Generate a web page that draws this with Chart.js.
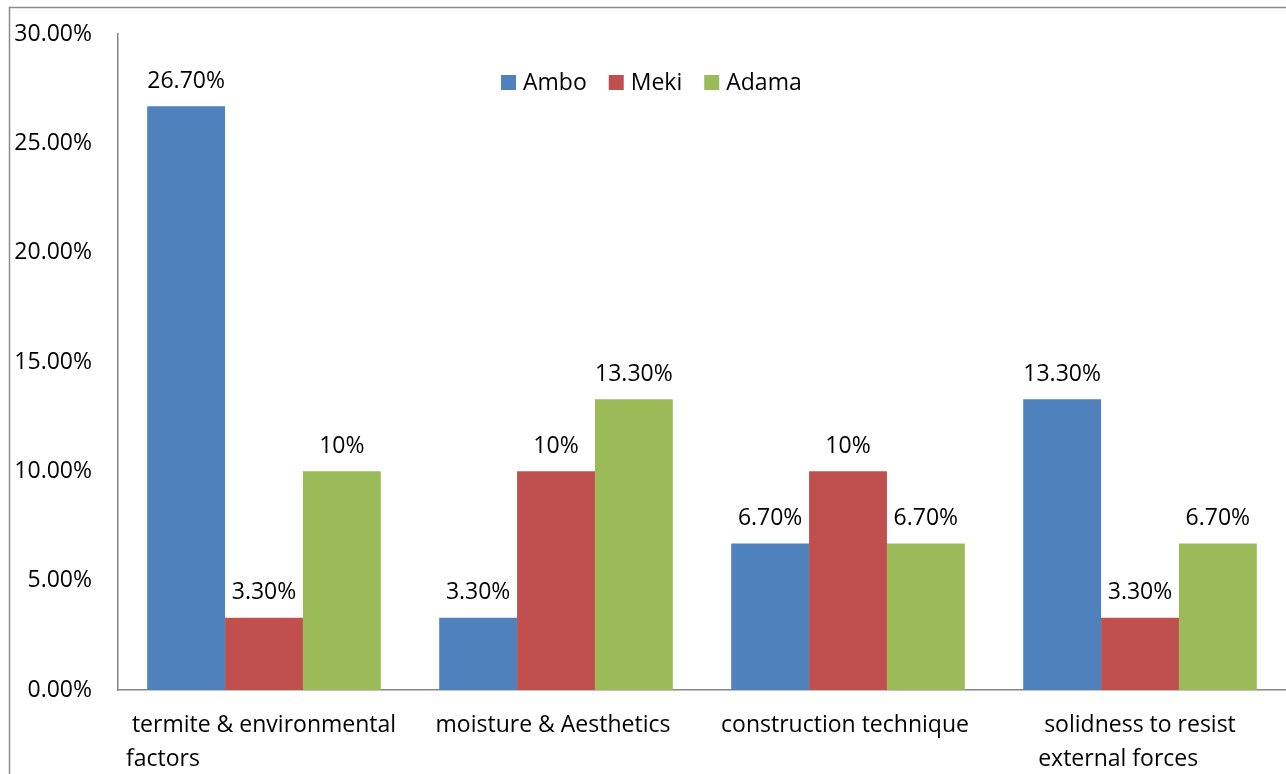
<!DOCTYPE html>
<html>
<head>
<meta charset="utf-8">
<script src="https://cdn.jsdelivr.net/npm/chart.js@4.4.1/dist/chart.umd.min.js"></script>
<style>
  html, body { margin: 0; padding: 0; background: #fff; }
  #wrap { width: 1286px; height: 774px; position: relative; }
</style>
</head>
<body>
<div id="wrap"><canvas id="chart" width="1286" height="774"></canvas></div>
<script>
const categories = [
  [' termite & environmental', 'factors'],
  ['moisture & Aesthetics'],
  ['construction technique'],
  [' solidness to resist', 'external forces']
];
const seriesNames = ['Ambo', 'Meki', 'Adama'];
const ambo  = [26.7, 3.3, 6.7, 13.3];
const meki  = [3.3, 10, 10, 3.3];
const adama = [10, 13.3, 6.7, 6.7];
const yTicks = [0, 5, 10, 15, 20, 25, 30];
const colors = ['#4f81bd', '#c0504d', '#9bbb59'];

const FONT = '23px "Open Sans", sans-serif';
const AXIS = '#868686';

function fmt(v) {
  return Number.isInteger(v) ? v + '%' : v.toFixed(2) + '%';
}

// frame, data labels, legend and two-line category labels
const extras = {
  id: 'extras',
  beforeDraw(chart) {
    const ctx = chart.ctx;
    ctx.save();
    ctx.strokeStyle = '#8c8c8c';
    ctx.lineWidth = 1.5;
    ctx.beginPath();
    ctx.moveTo(9.5, 774);
    ctx.lineTo(9.5, 7.5);
    ctx.lineTo(1286, 7.5);
    ctx.stroke();
    ctx.restore();
  },
  afterDraw(chart) {
    const ctx = chart.ctx;
    ctx.save();
    ctx.font = FONT;
    ctx.fillStyle = '#000';

    // value labels above bars
    ctx.textAlign = 'center';
    ctx.textBaseline = 'middle';
    chart.data.datasets.forEach((ds, di) => {
      chart.getDatasetMeta(di).data.forEach((bar, i) => {
        ctx.fillText(fmt(ds.data[i]), bar.x, bar.y - 25);
      });
    });

    // category labels, lines left-aligned within a centred block
    const xs = chart.scales.x;
    ctx.textAlign = 'left';
    categories.forEach((lines, i) => {
      const cx = xs.getPixelForValue(i);
      const w = Math.max(...lines.map(l => ctx.measureText(l).width));
      lines.forEach((l, j) => ctx.fillText(l, cx - w / 2 - 3, xs.top + 35 + j * 34));
    });

    // legend inside the plot
    let x = 501;
    const y = 83;
    chart.data.datasets.forEach(ds => {
      ctx.fillStyle = ds.backgroundColor;
      ctx.fillRect(x, y - 8, 15, 15);
      ctx.fillStyle = '#000';
      ctx.fillText(ds.label, x + 22, y);
      x += 22 + ctx.measureText(ds.label).width + 22;
    });
    ctx.restore();
  }
};

new Chart(document.getElementById('chart'), {
  type: 'bar',
  data: {
    labels: categories,
    datasets: [ambo, meki, adama].map((d, i) => ({
      label: seriesNames[i],
      data: d,
      backgroundColor: colors[i],
      categoryPercentage: 0.8,
      barPercentage: 1.0
    }))
  },
  options: {
    responsive: false,
    animation: false,
    devicePixelRatio: 1,
    layout: { padding: { top: 34, left: 0, right: 0, bottom: 0 } },
    plugins: { legend: { display: false }, tooltip: { enabled: false } },
    scales: {
      x: {
        grid: { display: false },
        border: { display: true, color: AXIS, width: 1.5 },
        ticks: { display: false },
        afterFit(scale) { scale.height = 84; }
      },
      y: {
        min: 0,
        max: 30,
        afterBuildTicks(scale) { scale.ticks = yTicks.map(v => ({ value: v })); },
        grid: { display: false, drawTicks: true, tickLength: 20 },
        border: { display: true, color: AXIS, width: 1.5 },
        ticks: {
          padding: 6,
          color: '#000',
          font: { family: '"Open Sans", sans-serif', size: 23 },
          callback: v => v.toFixed(2) + '%'
        },
        afterFit(scale) { scale.width = 118; }
      }
    }
  },
  plugins: [extras]
});
</script>
</body>
</html>
